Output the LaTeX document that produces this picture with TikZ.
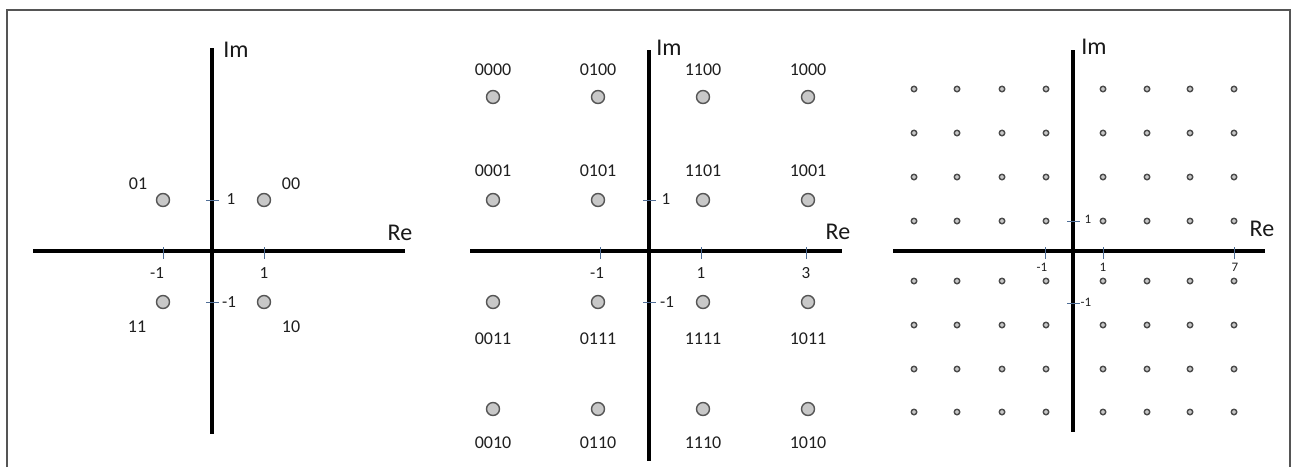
\documentclass[tikz,border=0pt]{standalone}
\usepackage{fontspec}
\setmainfont{Carlito}
\begin{document}
\begin{tikzpicture}[x=1pt,y=-1pt,
  axisline/.style={line width=4pt,black},
  tickmark/.style={line width=1pt,color=tickblue},
  bigpt/.style={circle,draw=ptedge,fill=ptfill,line width=1.4pt,minimum size=13pt,inner sep=0pt},
  smallpt/.style={circle,draw=sptedge,fill=ptfill,line width=1.4pt,minimum size=5.5pt,inner sep=0pt},
  lbl/.style={inner sep=0pt,font=\fontsize{18}{20}\selectfont,text=black!88},
  ticklbl/.style={inner sep=0pt,font=\fontsize{17}{19}\selectfont,text=black!88},
  smallticklbl/.style={inner sep=0pt,font=\fontsize{13}{15}\selectfont,text=black!88},
  axislbl/.style={inner sep=0pt,font=\fontsize{24}{26}\selectfont,text=black!90}]
\definecolor{tickblue}{RGB}{80,110,150}
\definecolor{ptedge}{RGB}{85,85,85}
\definecolor{sptedge}{RGB}{75,75,75}
\definecolor{ptfill}{RGB}{200,200,200}
\definecolor{framegray}{RGB}{85,85,85}
\useasboundingbox (0,0) rectangle (1292,467);
% frame
\coordinate (fbl) at (7,467);
\coordinate (ftl) at (7,10);
\coordinate (ftr) at (1290,10);
\coordinate (fbr) at (1290,467);
\draw[framegray,line width=2pt] (fbl) -- (ftl) -- (ftr) -- (fbr);

% ===== Panel 1 =====
\coordinate (aT) at (212,48);
\coordinate (aB) at (212,434);
\coordinate (aL) at (33,251);
\coordinate (aR) at (405,251);
\draw[axisline] (aT) -- (aB);
\draw[axisline] (aL) -- (aR);
\foreach \x/\n in {163/m,264/p}{
  \coordinate (axt\n1) at (\x,247);
  \coordinate (axt\n2) at (\x,259);
  \draw[tickmark] (axt\n1) -- (axt\n2);
}
\foreach \y/\n in {200/p,302/m}{
  \coordinate (ayt\n1) at (206,\y);
  \coordinate (ayt\n2) at (219,\y);
  \draw[tickmark] (ayt\n1) -- (ayt\n2);
}
\node[bigpt] (a01) at (163,200) {};
\node[bigpt] (a00) at (264,200) {};
\node[bigpt] (a11) at (163,302) {};
\node[bigpt] (a10) at (264,302) {};
\node[lbl] (la01) at (138,184) {01};
\node[lbl] (la00) at (291,184) {00};
\node[lbl] (la11) at (137,327) {11};
\node[lbl] (la10) at (291,327) {10};
\node[ticklbl] (tax1) at (157,273) {-1};
\node[ticklbl] (tax2) at (264,273) {1};
\node[ticklbl] (tay1) at (231,199) {1};
\node[ticklbl] (tay2) at (229,302) {-1};
\node[axislbl] (aIm) at (236,50) {Im};
\node[axislbl] (aRe) at (400,233) {Re};

% ===== Panel 2 =====
\coordinate (bT) at (649,50);
\coordinate (bB) at (649,461);
\coordinate (bL) at (470,251);
\coordinate (bR) at (842,251);
\draw[axisline] (bT) -- (bB);
\draw[axisline] (bL) -- (bR);
\foreach \x/\n in {600/a,701/b,806/c}{
  \coordinate (bxt\n1) at (\x,247);
  \coordinate (bxt\n2) at (\x,259);
  \draw[tickmark] (bxt\n1) -- (bxt\n2);
}
\foreach \y/\n in {200/p,302/m}{
  \coordinate (byt\n1) at (643,\y);
  \coordinate (byt\n2) at (656,\y);
  \draw[tickmark] (byt\n1) -- (byt\n2);
}
% top rows
\foreach \x/\a/\b in {493/0000/0001,598/0100/0101,703/1100/1101,808/1000/1001}{
  \node[bigpt] (b\a) at (\x,97) {};
  \node[lbl] (lb\a) at (\x,70) {\a};
  \node[bigpt] (b\b) at (\x,200) {};
  \node[lbl] (lb\b) at (\x,171) {\b};
}
% bottom rows
\foreach \x/\a/\b in {493/0011/0010,598/0111/0110,703/1111/1110,808/1011/1010}{
  \node[bigpt] (b\a) at (\x,302) {};
  \node[lbl] (lb\a) at (\x,339) {\a};
  \node[bigpt] (b\b) at (\x,409) {};
  \node[lbl] (lb\b) at (\x,443) {\b};
}
\node[ticklbl] (tbx1) at (597,273) {-1};
\node[ticklbl] (tbx2) at (701,273) {1};
\node[ticklbl] (tbx3) at (806,273) {3};
\node[ticklbl] (tby1) at (666,199) {1};
\node[ticklbl] (tby2) at (667,302) {-1};
\node[axislbl] (bIm) at (669,48) {Im};
\node[axislbl] (bRe) at (838,232) {Re};

% ===== Panel 3 =====
\coordinate (cT) at (1073,50);
\coordinate (cB) at (1073,432);
\coordinate (cL) at (893,251);
\coordinate (cR) at (1265,251);
\draw[axisline] (cT) -- (cB);
\draw[axisline] (cL) -- (cR);
\foreach \x/\n in {1045/a,1103/b,1234/c}{
  \coordinate (cxt\n1) at (\x,247);
  \coordinate (cxt\n2) at (\x,259);
  \draw[tickmark] (cxt\n1) -- (cxt\n2);
}
\foreach \y/\n in {221/p,303/m}{
  \coordinate (cyt\n1) at (1067,\y);
  \coordinate (cyt\n2) at (1080,\y);
  \draw[tickmark] (cyt\n1) -- (cyt\n2);
}
\foreach \x [count=\i] in {914,957,1002,1046,1103,1147,1190,1234}{
  \foreach \y [count=\j] in {89,133,177,221,281,325,369,412}{
    \node[smallpt] (c\i\j) at (\x,\y) {};
  }
}
\node[smallticklbl] (tcx1) at (1042,267) {-1};
\node[smallticklbl] (tcx2) at (1103,267) {1};
\node[smallticklbl] (tcx3) at (1235,267) {7};
\node[smallticklbl] (tcy1) at (1088,219) {1};
\node[smallticklbl] (tcy2) at (1086,302) {-1};
\node[axislbl] (cIm) at (1094,47) {Im};
\node[axislbl] (cRe) at (1262,229) {Re};
\end{tikzpicture}
\end{document}
